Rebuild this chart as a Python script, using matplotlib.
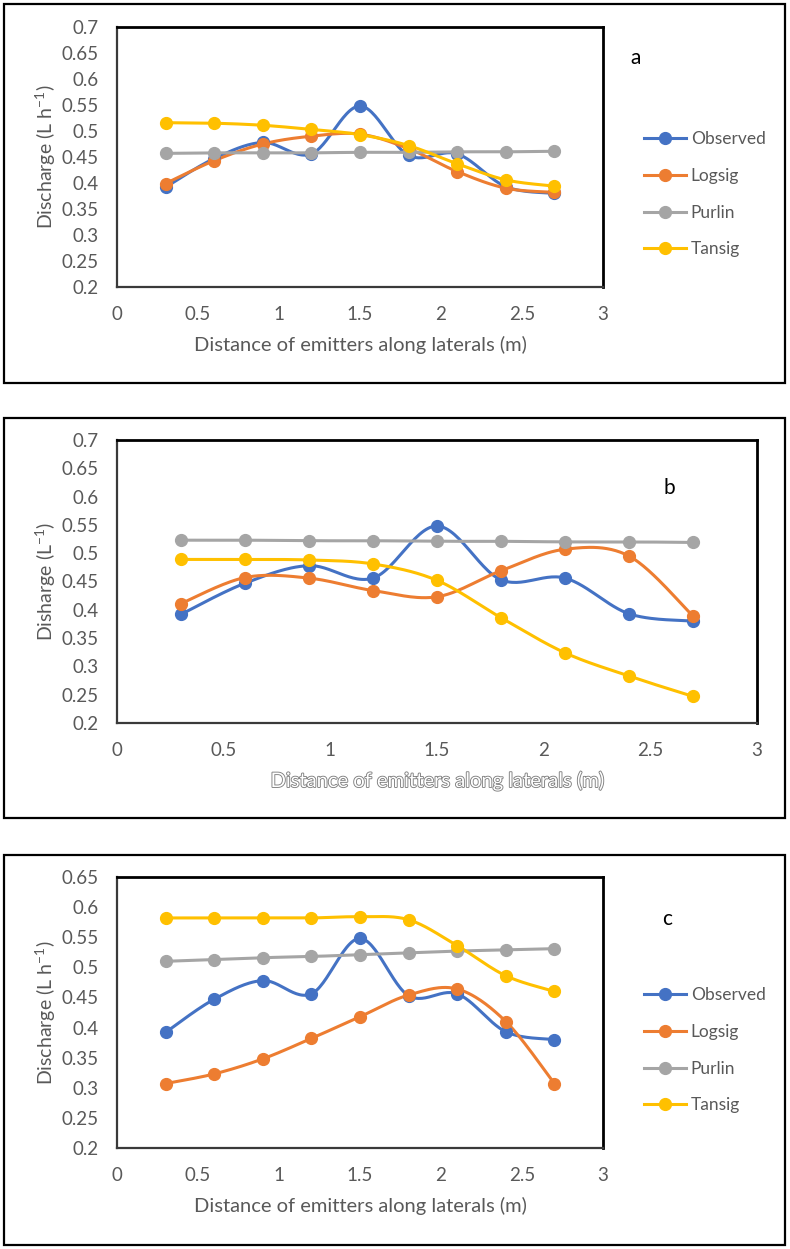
import numpy as np
import matplotlib
matplotlib.use("Agg")
import matplotlib.pyplot as plt
from matplotlib.patches import Rectangle
import matplotlib.patheffects as pe

plt.rcParams['font.family'] = ['Lato', 'DejaVu Sans']
plt.rcParams['mathtext.fontset'] = 'custom'
plt.rcParams['mathtext.rm'] = 'Lato'

# emitter positions (m)
distance = [0.3, 0.6, 0.9, 1.2, 1.5, 1.8, 2.1, 2.4, 2.7]

observed = [0.392, 0.447, 0.478, 0.456, 0.548, 0.453, 0.456, 0.393, 0.380]

# panel a
logsig_a = [0.399, 0.443, 0.475, 0.490, 0.494, 0.466, 0.422, 0.390, 0.382]
purlin_a = [0.457, 0.458, 0.458, 0.458, 0.459, 0.459, 0.460, 0.460, 0.461]
tansig_a = [0.516, 0.515, 0.511, 0.503, 0.493, 0.472, 0.437, 0.406, 0.394]

# panel b
logsig_b = [0.411, 0.457, 0.456, 0.434, 0.423, 0.469, 0.507, 0.495, 0.389]
purlin_b = [0.523, 0.523, 0.522, 0.522, 0.521, 0.521, 0.520, 0.520, 0.519]
tansig_b = [0.489, 0.489, 0.488, 0.481, 0.452, 0.386, 0.324, 0.283, 0.247]

# panel c
logsig_c = [0.307, 0.323, 0.348, 0.382, 0.418, 0.454, 0.464, 0.410, 0.307]
purlin_c = [0.510, 0.513, 0.516, 0.518, 0.521, 0.524, 0.527, 0.529, 0.531]
tansig_c = [0.582, 0.582, 0.582, 0.582, 0.584, 0.579, 0.536, 0.486, 0.460]

series_names = ['Observed', 'Logsig', 'Purlin', 'Tansig']
colors = ['#4472C4', '#ED7D31', '#A5A5A5', '#FFC000']

W, H = 790, 1249
GRAY = '#595959'


def smooth(x, y, n=30):
    # excel-like smoothed line (catmull-rom through the points)
    x = np.asarray(x, float)
    y = np.asarray(y, float)
    px = np.concatenate([[x[0]], x, [x[-1]]])
    py = np.concatenate([[y[0]], y, [y[-1]]])
    xs, ys = [], []
    t = np.linspace(0, 1, n)
    for i in range(1, len(px) - 2):
        for p, out in ((px, xs), (py, ys)):
            p0, p1, p2, p3 = p[i - 1], p[i], p[i + 1], p[i + 2]
            c1 = p1 + (p2 - p0) / 6
            c2 = p2 - (p3 - p1) / 6
            out.extend((1 - t) ** 3 * p1 + 3 * (1 - t) ** 2 * t * c1
                       + 3 * (1 - t) * t ** 2 * c2 + t ** 3 * p2)
    return xs, ys


def fig_rect(l, t, r, b):
    return [l / W, 1 - b / H, (r - l) / W, (b - t) / H]


fig = plt.figure(figsize=(7.9, 12.49), dpi=100)

panels = [
    dict(box=(4, 4, 785, 383), ax=(117, 27, 603, 287), ylim=(0.2, 0.7),
         data=[observed, logsig_a, purlin_a, tansig_a], tag='a', tagpos=(636, 58),
         ylabel='Discharge (L h$^{\\mathrm{-1}}$)', legend=(637, 124)),
    dict(box=(4, 418, 785, 818), ax=(117, 440, 757, 723), ylim=(0.2, 0.7),
         data=[observed, logsig_b, purlin_b, tansig_b], tag='b', tagpos=(669, 488),
         ylabel='Disharge (L$^{\\mathrm{-1}}$)', legend=None),
    dict(box=(4, 855, 785, 1245), ax=(117, 877, 603, 1148), ylim=(0.2, 0.65),
         data=[observed, logsig_c, purlin_c, tansig_c], tag='c', tagpos=(667, 919),
         ylabel='Discharge (L h$^{\\mathrm{-1}}$)', legend=(637, 980)),
]

for k, p in enumerate(panels):
    l, t, r, b = p['box']
    fig.patches.append(Rectangle((l / W, 1 - b / H), (r - l) / W, (b - t) / H,
                                 transform=fig.transFigure, fill=False,
                                 edgecolor='black', linewidth=1.6))
    ax = fig.add_axes(fig_rect(*p['ax']))
    handles = []
    for name, vals, c in zip(series_names, p['data'], colors):
        sx, sy = smooth(distance, vals)
        ax.plot(sx, sy, color=c, lw=2.2, zorder=3)
        ax.plot(distance, vals, 'o', color=c, ms=8.5, zorder=4)
        h, = ax.plot([], [], '-o', color=c, lw=2.2, ms=8.5, label=name)
        handles.append(h)
    ax.set_xlim(0, 3)
    ax.set_ylim(*p['ylim'])
    ax.set_xticks(np.arange(0, 3.01, 0.5))
    ax.set_xticklabels(['0', '0.5', '1', '1.5', '2', '2.5', '3'])
    yt = np.arange(p['ylim'][0], p['ylim'][1] + 0.001, 0.05)
    ax.set_yticks(yt)
    ax.set_yticklabels(['%g' % round(v, 2) for v in yt])
    ax.tick_params(length=0, labelsize=13.5, labelcolor=GRAY)
    ax.tick_params(axis='y', pad=13)
    ax.tick_params(axis='x', pad=14)
    for s in ['top', 'right']:
        ax.spines[s].set_linewidth(2)
        ax.spines[s].set_color('black')
    for s in ['left', 'bottom']:
        ax.spines[s].set_linewidth(1.6)
        ax.spines[s].set_color('#3a3a3a')
    ax.set_ylabel(p['ylabel'], fontsize=14, color=GRAY, labelpad=3)
    xl = ax.set_xlabel('Distance of emitters along laterals (m)', fontsize=14.5,
                       color=GRAY, labelpad=9)
    if p['tag'] == 'b':
        xl.set_color('white')
        xl.set_path_effects([pe.withStroke(linewidth=1.3, foreground='#7f7f7f')])
    tx, ty = p['tagpos']
    fig.text(tx / W, 1 - ty / H, p['tag'], fontsize=15, color='black',
             ha='center', va='center')
    if p['legend'] is not None:
        lx, ly = p['legend']
        ax.legend(handles=handles, loc='upper left',
                  bbox_to_anchor=(lx / W, 1 - ly / H),
                  bbox_transform=fig.transFigure, frameon=False,
                  fontsize=12.5, labelcolor=GRAY, handlelength=2.4,
                  handletextpad=0.3, labelspacing=1.2, borderaxespad=0)

fig.savefig('out.png', dpi=100)
